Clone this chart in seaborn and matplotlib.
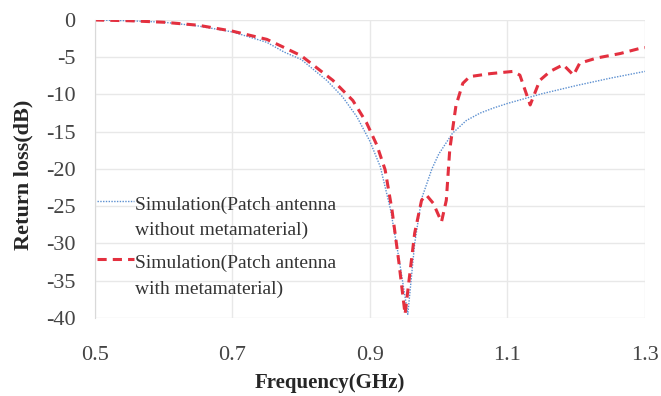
import matplotlib
matplotlib.use("Agg")
import matplotlib.pyplot as plt
import seaborn as sns
import pandas as pd
from matplotlib.legend_handler import HandlerLine2D

freq_without = [0.5, 0.55, 0.6, 0.65, 0.7, 0.75, 0.775, 0.8, 0.837, 0.86, 0.881, 0.9, 0.915, 0.93, 0.943, 0.955,
                0.965, 0.975, 0.99, 1.0, 1.02, 1.04, 1.06, 1.08, 1.1, 1.15, 1.2, 1.25, 1.3]
rl_without = [0, -0.1, -0.3, -0.8, -1.6, -3.0, -4.3, -5.3, -8.1, -10.3, -13, -16.3, -19.7, -25.5, -32.5, -39.5,
              -30, -24, -20, -18, -15.2, -13.5, -12.5, -11.8, -11.2, -9.9, -8.8, -7.8, -6.9]

freq_with = [0.5, 0.55, 0.6, 0.65, 0.7, 0.75, 0.773, 0.8, 0.846, 0.875, 0.895, 0.91, 0.922, 0.932, 0.942, 0.951,
             0.958, 0.965, 0.975, 0.982, 0.992, 1.004, 1.011, 1.016, 1.025, 1.035, 1.045, 1.075,
             1.108, 1.118, 1.133, 1.147, 1.162, 1.181, 1.196, 1.205, 1.23, 1.264, 1.293, 1.3]
rl_with = [0, -0.1, -0.3, -0.7, -1.5, -2.6, -3.6, -4.8, -8.1, -10.8, -13.8, -16.8, -20.1, -25.5, -32.5, -39.5,
           -34, -28.6, -24.2, -23.5, -24.6, -27.1, -24.2, -17.4, -11.5, -8.5, -7.6, -7.2,
           -6.9, -7.4, -11.4, -8.1, -6.9, -6.0, -7.4, -5.8, -5.1, -4.5, -3.8, -3.7]

label_without = "Simulation(Patch antenna\nwithout metamaterial)"
label_with = "Simulation(Patch antenna\nwith metamaterial)"

x_ticks = [0.5, 0.7, 0.9, 1.1, 1.3]
y_ticks = [0, -5, -10, -15, -20, -25, -30, -35, -40]

df1 = pd.DataFrame({"f": freq_without, "rl": rl_without})
df2 = pd.DataFrame({"f": freq_with, "rl": rl_with})

sns.set_style("white")
plt.rcParams["font.family"] = ["Liberation Serif", "DejaVu Serif"]


class FirstLineHandler(HandlerLine2D):
    """Place the legend key level with the first line of a two-line label."""
    def __init__(self, offset, **kw):
        super().__init__(**kw)
        self.offset = offset

    def create_artists(self, legend, orig_handle, xdescent, ydescent, width, height, fontsize, trans):
        return super().create_artists(legend, orig_handle, xdescent, ydescent - 2 * self.offset,
                                      width, height, fontsize, trans)


fig = plt.figure(figsize=(6.61, 3.96), dpi=100)
ax = fig.add_axes([0.1437, 0.197, 0.8321, 0.7525])

sns.lineplot(data=df1, x="f", y="rl", ax=ax, color="#5b8fd0", lw=1.0,
             linestyle=(0, (1, 1)), label=label_without)
sns.lineplot(data=df2, x="f", y="rl", ax=ax, color="#e3303f", lw=2.2,
             linestyle=(0, (3, 2)), label=label_with)

ax.set_xlim(0.5, 1.3)
ax.set_ylim(-40, 0)
ax.set_xticks(x_ticks)
ax.set_xticklabels([f"{v:g}" for v in x_ticks])
ax.set_yticks(y_ticks)
ax.set_yticklabels([f"{v:g}" for v in y_ticks])
ax.tick_params(axis="both", labelsize=16, colors="#444444", length=0)
ax.tick_params(axis="y", pad=14)
ax.tick_params(axis="x", pad=20)
ax.grid(True, color="#e8e8e8", lw=1)
for s in ax.spines.values():
    s.set_visible(False)
ax.spines["left"].set_visible(True)
ax.spines["left"].set_color("#d9d9d9")

ax.set_xlabel("Frequency(GHz)", fontsize=15, fontweight="bold", labelpad=6)
ax.xaxis.label.set_x(0.427)
ax.set_ylabel("Return loss(dB)", fontsize=16, fontweight="bold", labelpad=9)
ax.yaxis.label.set_y(0.48)

leg = ax.legend(loc="lower left", bbox_to_anchor=(0.003, 0.068), frameon=False,
                fontsize=14, handlelength=1.9, handletextpad=0.05, labelspacing=0.8,
                borderaxespad=0.0, borderpad=0.0,
                handler_map={matplotlib.lines.Line2D: FirstLineHandler(offset=12)})
for t in leg.get_texts():
    t.set_color("#333333")
    t.set_linespacing(1.62)

fig.savefig("out.png", dpi=100)
